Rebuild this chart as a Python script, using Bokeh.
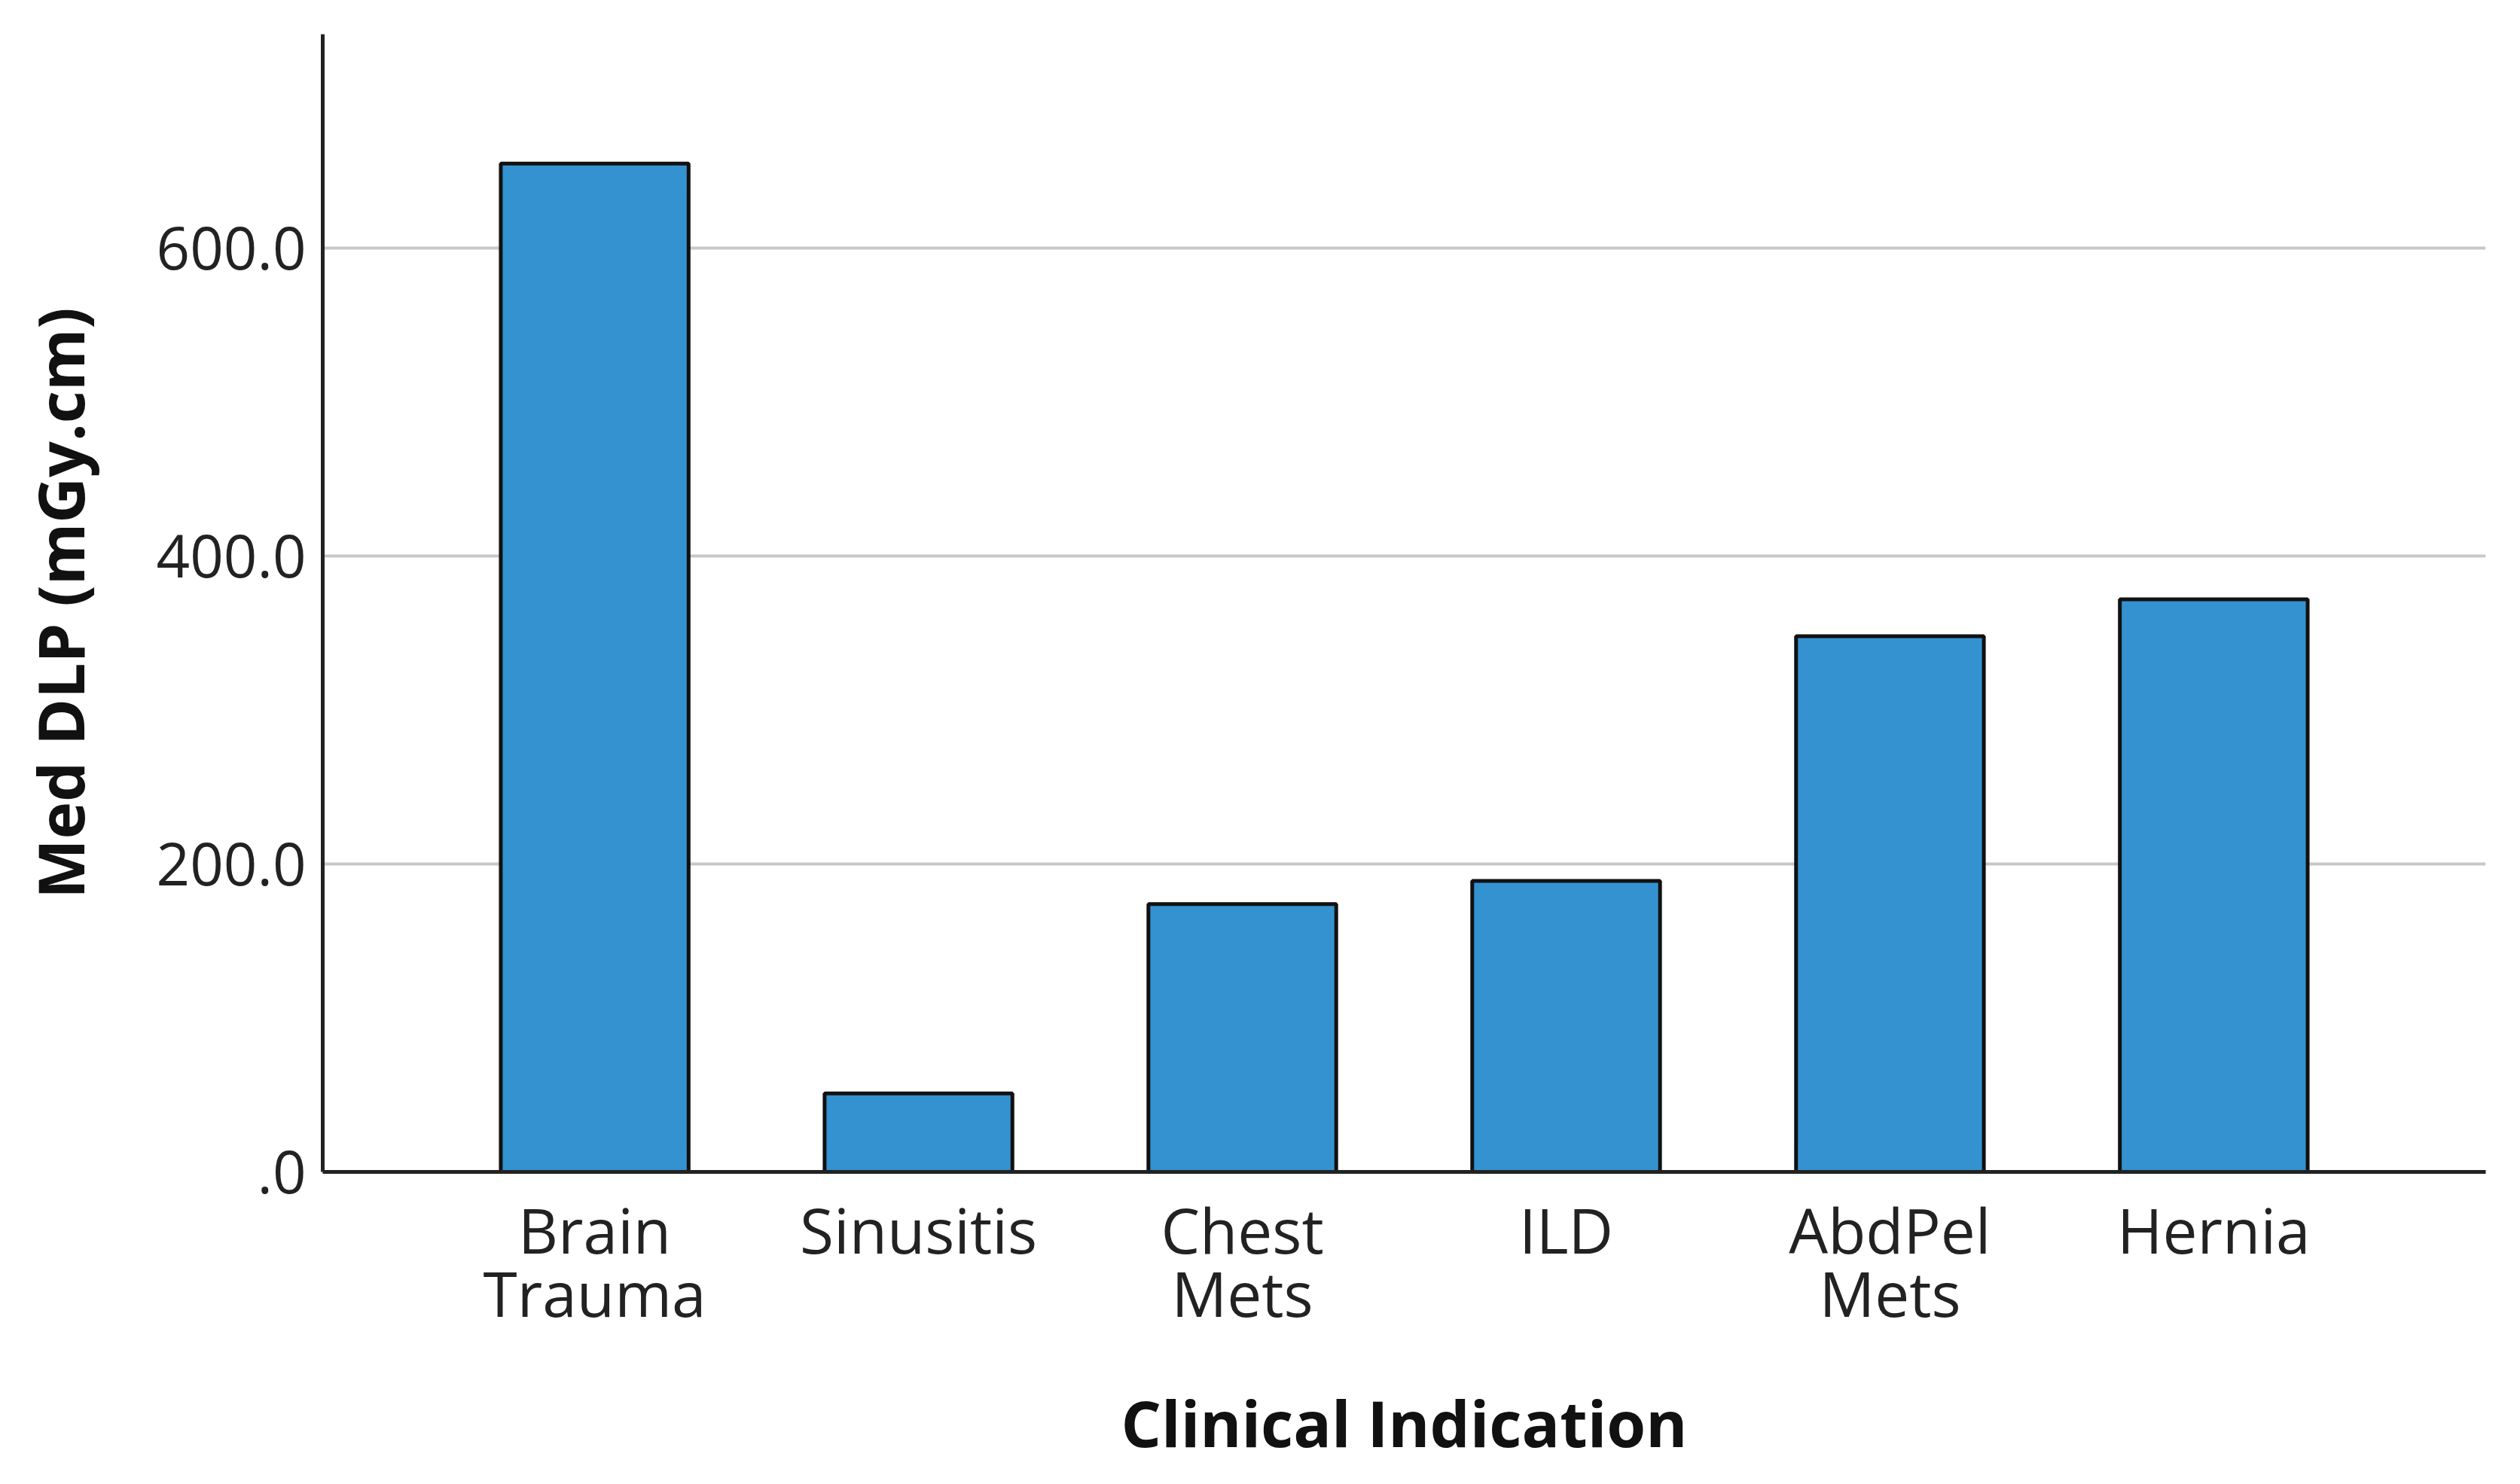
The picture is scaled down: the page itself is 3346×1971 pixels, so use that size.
from bokeh.plotting import figure
from bokeh.models import FactorRange, Range1d, FixedTicker
from bokeh.embed import file_html
from bokeh.resources import INLINE

categories = ["Brain Trauma", "Sinusitis", "Chest Mets", "ILD", "AbdPel Mets", "Hernia"]
med_dlp = [655, 51, 174, 189, 348, 372]
y_ticks = [0, 200, 400, 600]
y_tick_labels = [".0", "200.0", "400.0", "600.0"]

factors = [c.replace(" ", "\n") for c in categories]

p = figure(
    width=3346, height=1971,
    x_range=FactorRange(factors=factors, range_padding=0.1133, range_padding_units="percent"),
    y_range=Range1d(0, 739),
    output_backend="svg", toolbar_location=None,
    min_border_left=428, min_border_right=46, min_border_top=45, min_border_bottom=415,
)

p.vbar(x=factors, top=med_dlp, width=0.58, fill_color="#3492d1",
       line_color="#111111", line_width=5)

p.outline_line_color = None
p.background_fill_color = "white"
p.border_fill_color = "white"

p.xgrid.grid_line_color = None
p.ygrid.grid_line_color = "#c8c8c8"
p.ygrid.grid_line_width = 4
p.ygrid.ticker = FixedTicker(ticks=y_ticks)

p.yaxis.ticker = FixedTicker(ticks=y_ticks)
p.yaxis.major_label_overrides = {t: l for t, l in zip(y_ticks, y_tick_labels)}

for ax in (p.xaxis[0], p.yaxis[0]):
    ax.axis_line_color = "#222222"
    ax.axis_line_width = 5
    ax.major_tick_line_color = None
    ax.minor_tick_line_color = None
    ax.major_tick_out = 0
    ax.major_tick_in = 0
    ax.major_label_text_font = "Open Sans"
    ax.major_label_text_color = "#222222"
    ax.axis_label_text_font = "Open Sans"
    ax.axis_label_text_font_style = "bold"
    ax.axis_label_text_font_size = "84px"
    ax.axis_label_text_color = "#111111"

p.yaxis.major_label_text_font_size = "78px"
p.xaxis.major_label_text_font_size = "82px"
p.xaxis.major_label_text_line_height = 0.75

p.yaxis.axis_label = "Med DLP (mGy.cm)"
p.yaxis.major_label_standoff = 22
p.yaxis.axis_label_standoff = 68
p.xaxis.axis_label = "Clinical Indication"
p.xaxis.major_label_standoff = 20
p.xaxis.axis_label_standoff = 56

open("out.html", "w").write(file_html(p, INLINE))
